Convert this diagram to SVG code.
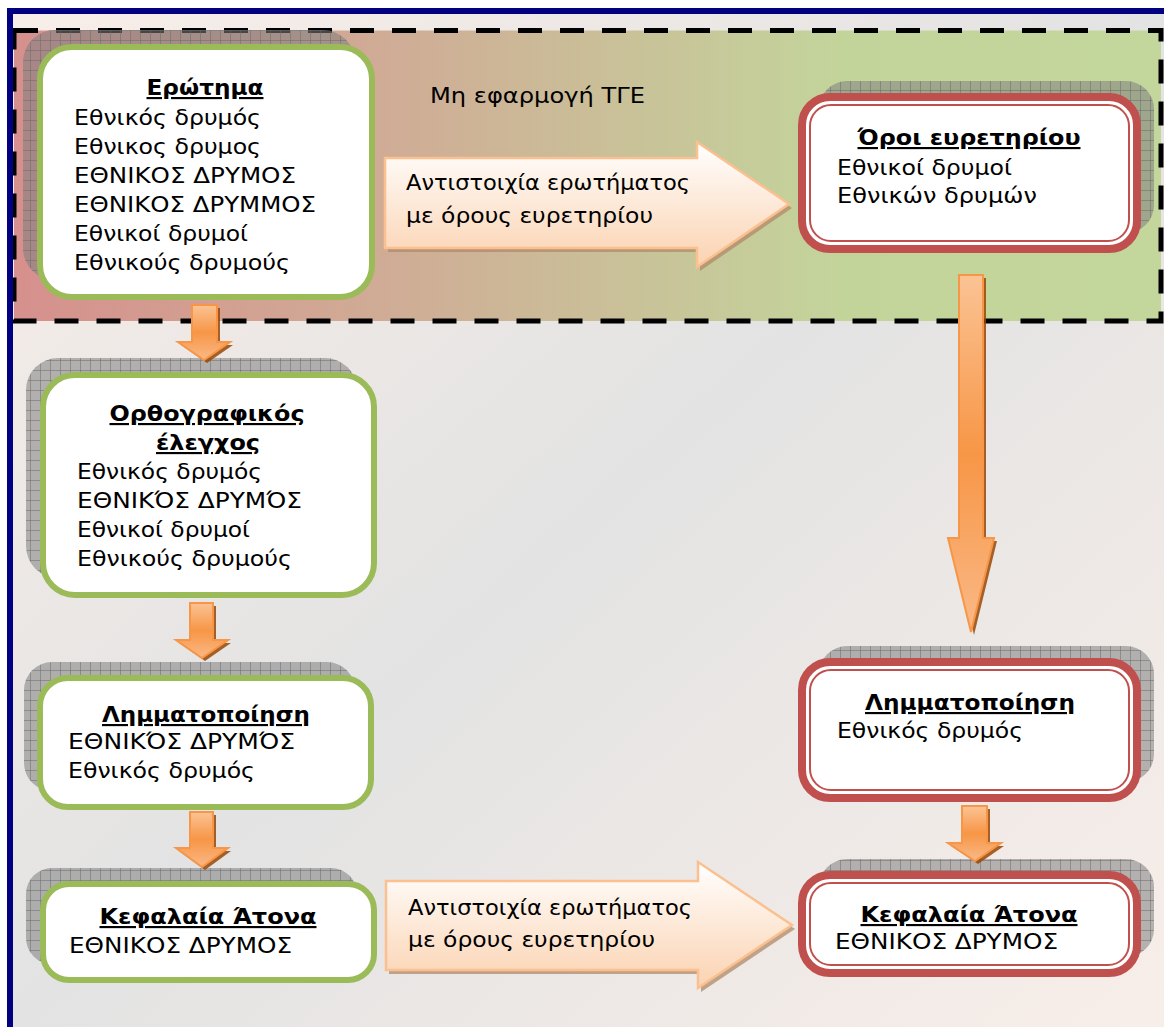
<svg xmlns="http://www.w3.org/2000/svg" width="1164" height="1027" viewBox="0 0 1164 1027">
<style>
.t{font-family:"DejaVu Sans",Verdana,sans-serif;font-size:21.5px;fill:#000}
.h{font-family:"DejaVu Sans",Verdana,sans-serif;font-size:21.5px;font-weight:bold;fill:#000;text-anchor:middle;text-decoration:underline}
.gn{fill:#fff;stroke:#9bbb59;stroke-width:6}
.rn{fill:#fff;stroke:#c0504d;stroke-width:8}
.ri{fill:none;stroke:#c0504d;stroke-width:2}
.sh{fill:url(#grid)}
.ba{fill:url(#peach);stroke:#fac08f;stroke-width:2.5}
.bs{fill:#b08a6a;fill-opacity:0.75}
.da{fill:url(#orng);stroke:#f79646;stroke-width:2}
.ds{fill:#984807;fill-opacity:0.85}
</style>
<defs>
<linearGradient id="bg" x1="0" y1="0" x2="1" y2="1">
<stop offset="0" stop-color="#f8eee9"/>
<stop offset="0.5" stop-color="#e3e3e3"/>
<stop offset="1" stop-color="#f8eee9"/>
</linearGradient>
<linearGradient id="band" x1="0" y1="0" x2="1" y2="0">
<stop offset="0" stop-color="#d6908d"/>
<stop offset="0.35" stop-color="#cfae96"/>
<stop offset="0.72" stop-color="#c3d49b"/>
<stop offset="1" stop-color="#c3d69b"/>
</linearGradient>
<linearGradient id="peach" x1="0" y1="0" x2="0" y2="1">
<stop offset="0" stop-color="#ffffff"/>
<stop offset="1" stop-color="#fbd2b0"/>
</linearGradient>
<linearGradient id="orng" x1="0" y1="0" x2="0" y2="1">
<stop offset="0" stop-color="#fbc394"/>
<stop offset="0.5" stop-color="#f79646"/>
<stop offset="1" stop-color="#fab987"/>
</linearGradient>
<pattern id="grid" width="10" height="10" patternUnits="userSpaceOnUse">
<rect width="10" height="10" fill="#808080" fill-opacity="0.55"/>
<path d="M0 0.5H10M0.5 0V10" stroke="#6a6a6a" stroke-width="1" stroke-opacity="0.5"/>
</pattern>
</defs>

<!-- background -->
<rect x="0" y="0" width="1164" height="1027" fill="#ffffff"/>
<rect x="10" y="11" width="1154" height="1016" fill="url(#bg)"/>
<rect x="14" y="30.5" width="1147" height="290.5" fill="url(#band)"/>
<rect x="14" y="30.5" width="1147" height="290.5" fill="none" stroke="#000" stroke-width="5" stroke-dasharray="24 18"/>
<path d="M10 1027V11H1164" fill="none" stroke="#000080" stroke-width="6"/>

<text class="t" x="430" y="103" textLength="215" lengthAdjust="spacingAndGlyphs">Μη εφαρμογή ΤΓΕ</text>

<!-- nodes -->
<g id="erotima">
<rect class="sh" x="23" y="30" width="332" height="250" rx="32"/>
<rect class="gn" x="40" y="47" width="332" height="250" rx="32"/>
<text class="h" x="205" y="95" textLength="117" lengthAdjust="spacingAndGlyphs">Ερώτημα</text>
<text class="t" x="74" y="125" textLength="187" lengthAdjust="spacingAndGlyphs">Εθνικός δρυμός</text>
<text class="t" x="74" y="154" textLength="187" lengthAdjust="spacingAndGlyphs">Εθνικος δρυμος</text>
<text class="t" x="74" y="183" textLength="222" lengthAdjust="spacingAndGlyphs">ΕΘΝΙΚΟΣ ΔΡΥΜΟΣ</text>
<text class="t" x="74" y="212" textLength="242" lengthAdjust="spacingAndGlyphs">ΕΘΝΙΚΟΣ ΔΡΥΜΜΟΣ</text>
<text class="t" x="74" y="241" textLength="174" lengthAdjust="spacingAndGlyphs">Εθνικοί δρυμοί</text>
<text class="t" x="74" y="270" textLength="216" lengthAdjust="spacingAndGlyphs">Εθνικούς δρυμούς</text>
</g>

<g id="orthografikos">
<rect class="sh" x="26" y="358" width="331" height="220" rx="32"/>
<rect class="gn" x="43" y="375" width="331" height="220" rx="32"/>
<text class="h" x="207" y="421" textLength="195" lengthAdjust="spacingAndGlyphs">Ορθογραφικός</text>
<text class="h" x="208" y="450" textLength="104" lengthAdjust="spacingAndGlyphs">έλεγχος</text>
<text class="t" x="77" y="479" textLength="185" lengthAdjust="spacingAndGlyphs">Εθνικός δρυμός</text>
<text class="t" x="77" y="508" textLength="225" lengthAdjust="spacingAndGlyphs">ΕΘΝΙΚΌΣ ΔΡΥΜΌΣ</text>
<text class="t" x="77" y="537" textLength="173" lengthAdjust="spacingAndGlyphs">Εθνικοί δρυμοί</text>
<text class="t" x="77" y="566" textLength="215" lengthAdjust="spacingAndGlyphs">Εθνικούς δρυμούς</text>
</g>

<g id="lemma-left">
<rect class="sh" x="24" y="662" width="331" height="129" rx="28"/>
<rect class="gn" x="40" y="678" width="331" height="129" rx="28"/>
<text class="h" x="206" y="722" textLength="208" lengthAdjust="spacingAndGlyphs">Λημματοποίηση</text>
<text class="t" x="68" y="749" textLength="227" lengthAdjust="spacingAndGlyphs">ΕΘΝΙΚΌΣ ΔΡΥΜΌΣ</text>
<text class="t" x="68" y="778" textLength="187" lengthAdjust="spacingAndGlyphs">Εθνικός δρυμός</text>
</g>

<g id="kefalaia-left">
<rect class="sh" x="26" y="868" width="331" height="96" rx="26"/>
<rect class="gn" x="43" y="884" width="331" height="96" rx="26"/>
<text class="h" x="208" y="924" textLength="217" lengthAdjust="spacingAndGlyphs">Κεφαλαία Άτονα</text>
<text class="t" x="69" y="953" textLength="223" lengthAdjust="spacingAndGlyphs">ΕΘΝΙΚΟΣ ΔΡΥΜΟΣ</text>
</g>

<g id="oroi">
<rect class="sh" x="819" y="81" width="335" height="152" rx="28"/>
<rect class="rn" x="802" y="97" width="335" height="152" rx="28"/>
<rect class="ri" x="810" y="105" width="319" height="136" rx="21"/>
<text class="h" x="969" y="145" textLength="223" lengthAdjust="spacingAndGlyphs">Όροι ευρετηρίου</text>
<text class="t" x="837" y="175" textLength="175" lengthAdjust="spacingAndGlyphs">Εθνικοί δρυμοί</text>
<text class="t" x="837" y="203" textLength="200" lengthAdjust="spacingAndGlyphs">Εθνικών δρυμών</text>
</g>

<g id="lemma-right">
<rect class="sh" x="819" y="646" width="335" height="136" rx="28"/>
<rect class="rn" x="802" y="662" width="335" height="136" rx="28"/>
<rect class="ri" x="810" y="670" width="319" height="120" rx="21"/>
<text class="h" x="970" y="710" textLength="210" lengthAdjust="spacingAndGlyphs">Λημματοποίηση</text>
<text class="t" x="837" y="738" textLength="186" lengthAdjust="spacingAndGlyphs">Εθνικός δρυμός</text>
</g>

<g id="kefalaia-right">
<rect class="sh" x="819" y="859" width="335" height="98" rx="28"/>
<rect class="rn" x="802" y="875" width="335" height="98" rx="28"/>
<rect class="ri" x="810" y="883" width="319" height="82" rx="21"/>
<text class="h" x="969" y="922" textLength="217" lengthAdjust="spacingAndGlyphs">Κεφαλαία Άτονα</text>
<text class="t" x="835" y="949" textLength="223" lengthAdjust="spacingAndGlyphs">ΕΘΝΙΚΟΣ ΔΡΥΜΟΣ</text>
</g>

<!-- connectors -->
<g id="connectors">
<polygon class="bs" points="388,162 700,162 700,146 792,208 700,271 700,252 388,252"/>
<polygon class="ba" points="385,158 697,158 697,142 789,204 697,267 697,248 385,248"/>
<text class="t" x="406" y="190" textLength="284" lengthAdjust="spacingAndGlyphs">Αντιστοιχία ερωτήματος</text>
<text class="t" x="406" y="223" textLength="247" lengthAdjust="spacingAndGlyphs">με όρους ευρετηρίου</text>

<polygon class="bs" points="389,885 701,885 701,866 795,929 701,992 701,974 389,974"/>
<polygon class="ba" points="386,881 698,881 698,862 792,925 698,988 698,970 386,970"/>
<text class="t" x="408" y="915" textLength="284" lengthAdjust="spacingAndGlyphs">Αντιστοιχία ερωτήματος</text>
<text class="t" x="408" y="947" textLength="247" lengthAdjust="spacingAndGlyphs">με όρους ευρετηρίου</text>

<polygon class="ds" points="195,308 220,308 220,345 233,345 207,363 181,345 195,345"/>
<polygon class="da" points="192,305 217,305 217,342 230,342 204,360 178,342 192,342"/>

<polygon class="ds" points="193,606 216,606 216,643 231,643 205,661 179,643 193,643"/>
<polygon class="da" points="190,603 213,603 213,640 228,640 202,658 176,640 190,640"/>

<polygon class="ds" points="193,815 216,815 216,851 231,851 205,870 179,851 193,851"/>
<polygon class="da" points="190,812 213,812 213,848 228,848 202,867 176,848 190,848"/>

<polygon class="ds" points="965,809 990,809 990,846 1004,846 978,864 951,846 965,846"/>
<polygon class="da" points="962,806 987,806 987,843 1001,843 975,861 948,843 962,843"/>

<polygon class="ds" points="962,278 986,278 986,541 997,541 974,635 951,541 962,541"/>
<polygon class="da" points="959,275 983,275 983,538 994,538 971,632 948,538 959,538"/>
</g>
</svg>
